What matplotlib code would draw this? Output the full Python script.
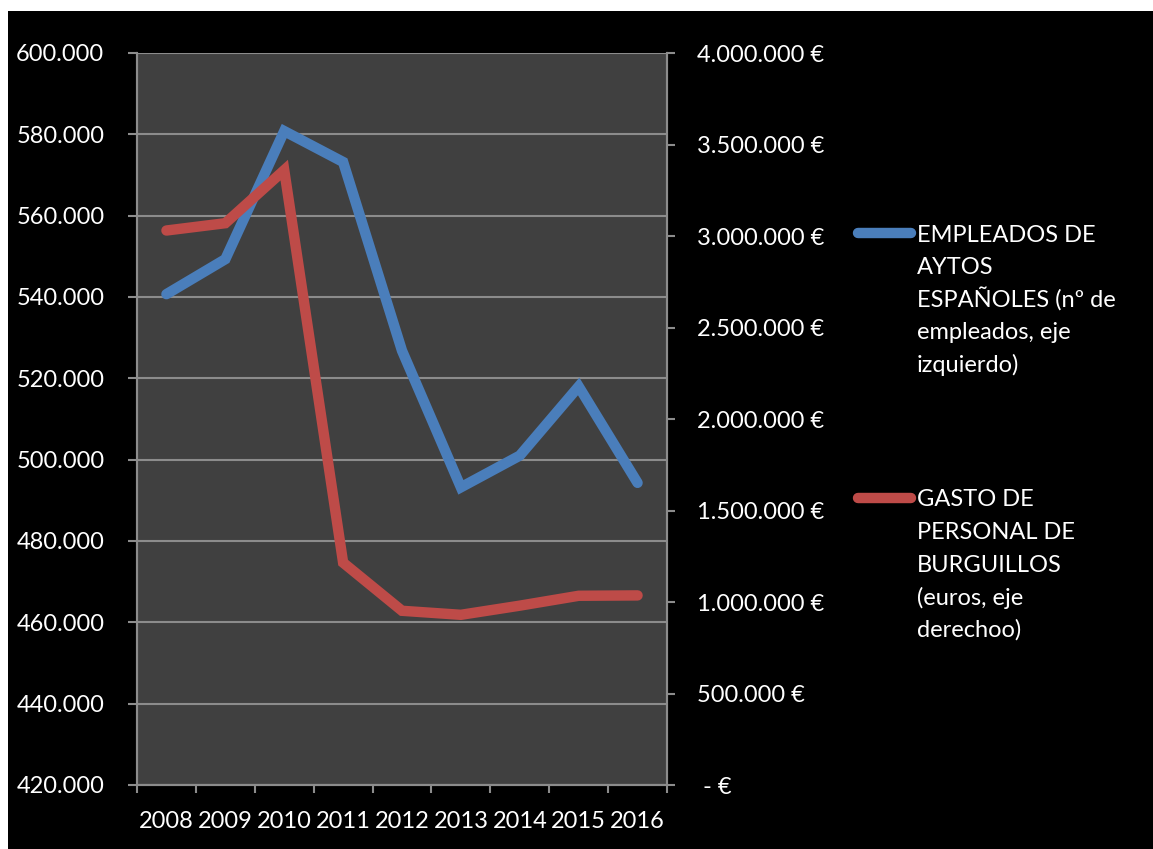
import matplotlib.pyplot as plt
from matplotlib.patches import Rectangle
from matplotlib.lines import Line2D
from matplotlib.ticker import FuncFormatter, MultipleLocator

years = ['2008', '2009', '2010', '2011', '2012', '2013', '2014', '2015', '2016']
empleados = [540700, 549300, 580800, 573200, 526800, 493200, 501000, 518000, 494300]
gasto = [3030000, 3070000, 3360000, 1215000, 952000, 930000, 980000, 1034000, 1036000]
labels = [['EMPLEADOS DE', 'AYTOS', 'ESPAÑOLES (nº de', 'empleados, eje', 'izquierdo)'],
          ['GASTO DE', 'PERSONAL DE', 'BURGUILLOS', '(euros, eje', 'derechoo)']]

blue = '#4a7ebb'
red = '#be4b48'
grid = '#8c8c8c'
font = 'Lato'
fs = 17

plt.rcParams['font.family'] = [font, 'DejaVu Sans']

W, H = 1153, 849
fig = plt.figure(figsize=(W / 100, H / 100), dpi=100, facecolor='white')
# black chart background, white border on top and left
fig.patches.append(Rectangle((8 / W, 0), 1 - 8 / W, 1 - 11 / H, transform=fig.transFigure,
                             facecolor='black', edgecolor='none', zorder=-10))

ax = fig.add_axes([137 / W, 1 - 785 / H, (667 - 137) / W, (785 - 53) / H])
ax.set_facecolor('#404040')
x = list(range(len(years)))
ax.plot(x, empleados, color=blue, lw=7.5, solid_capstyle='round', solid_joinstyle='miter', zorder=3)
ax.set_xlim(-0.5, len(years) - 0.5)
ax.set_ylim(420000, 600000)
ax.yaxis.set_major_locator(MultipleLocator(20000))
ax.yaxis.set_major_formatter(FuncFormatter(lambda v, p: f'{int(v):,}'.replace(',', '.')))
ax.grid(axis='y', color=grid, lw=1.5)
ax.set_axisbelow(True)

ax.set_xticks(x)
ax.set_xticklabels(years)
ax.set_xticks([i - 0.5 for i in range(len(years) + 1)], minor=True)
ax.tick_params(axis='x', which='major', length=0, pad=19, labelsize=fs, colors='white')
ax.tick_params(axis='x', which='minor', length=6, width=1.5, color=grid)
ax.tick_params(axis='y', length=6.5, width=1.5, color=grid, labelsize=fs, labelcolor='white', pad=17)

ax2 = ax.twinx()
ax2.plot(x, gasto, color=red, lw=7.5, solid_capstyle='round', solid_joinstyle='miter', zorder=3)
ax2.set_ylim(0, 4000000)
ax2.yaxis.set_major_locator(MultipleLocator(500000))


def euro(v, p):
    if v == 0:
        return ' - €'
    return f'{int(v):,} €'.replace(',', '.')


ax2.yaxis.set_major_formatter(FuncFormatter(euro))
ax2.tick_params(axis='y', length=6, width=1.5, color=grid, labelsize=fs, labelcolor='white', pad=15.5)

for a in (ax, ax2):
    a.spines['top'].set_visible(False)
    for s in ('left', 'right', 'bottom'):
        a.spines[s].set_color(grid)
        a.spines[s].set_linewidth(1.5)

# legend drawn at the right, one text per line for even spacing
for color, lines, ytop in [(blue, labels[0], 233), (red, labels[1], 498)]:
    fig.add_artist(Line2D([858 / W, 911 / W], [1 - ytop / H, 1 - ytop / H], color=color,
                          lw=7.5, solid_capstyle='round', transform=fig.transFigure))
    for i, line in enumerate(lines):
        fig.text(917 / W, 1 - (ytop + i * 32.5) / H, line, color='white', fontsize=fs,
                 va='center_baseline', ha='left')

fig.savefig('out.png', dpi=100, facecolor=fig.get_facecolor())
